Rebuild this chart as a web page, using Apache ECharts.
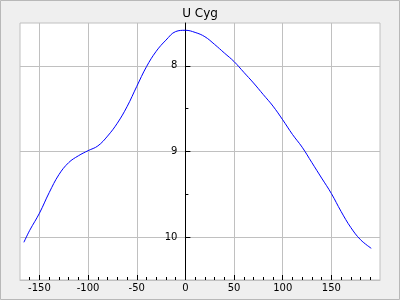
<!DOCTYPE html>
<html>
<head>
<meta charset="utf-8">
<script src="https://cdn.jsdelivr.net/npm/echarts@6/dist/echarts.min.js"></script>
<style>
html,body{margin:0;padding:0;background:#efefef;}
#c{width:400px;height:300px;}
</style>
</head>
<body>
<div id="c"></div>
<script>
var titleText = 'U Cyg';
var phases = [-166, -160, -150, -140, -130, -120, -110, -100, -90, -80, -70, -60, -50, -40, -30, -20, -10, 0, 10, 20, 30, 40, 50, 60, 70, 80, 90, 100, 110, 120, 130, 140, 150, 160, 170, 180, 191];
var mags = [10.06, 9.92, 9.72, 9.48, 9.27, 9.13, 9.05, 8.99, 8.935, 8.82, 8.67, 8.477, 8.24, 8.01, 7.83, 7.70, 7.60, 7.585, 7.61, 7.66, 7.75, 7.85, 7.95, 8.075, 8.20, 8.335, 8.47, 8.63, 8.80, 8.95, 9.13, 9.31, 9.49, 9.70, 9.887, 10.03, 10.13];
var xMajorTicks = [-150, -100, -50, 0, 50, 100, 150];
var xMinorTicks = [-160, -140, -130, -120, -110, -90, -80, -70, -60, -40, -30, -20, -10, 10, 20, 30, 40, 60, 70, 80, 90, 110, 120, 130, 140, 160, 170, 180, 190];
var yMajorTicks = [8, 9, 10];
var yMinorTicks = [8.5, 9.5];

var chart = echarts.init(document.getElementById('c'), null, {renderer: 'canvas'});
var font = 'DejaVu Sans';
var xRange = {min: -170, max: 200};
var yRange = {min: 7.5, max: 10.5};
var gridLeft = 20, gridRight = 20;
var gridWidth = 400 - gridLeft - gridRight;
var yAxisOffset = -((0 - xRange.min) / (xRange.max - xRange.min)) * gridWidth;
var data = phases.map(function (p, i) { return [p, mags[i]]; });

chart.setOption({
  backgroundColor: '#efefef',
  animation: false,
  title: {
    text: titleText, left: 'center', top: 3,
    textStyle: {fontFamily: font, fontSize: 12, fontWeight: 'normal', color: '#000'}
  },
  graphic: [{
    type: 'rect', shape: {x: 0.5, y: 0.5, width: 399, height: 299},
    style: {fill: 'none', stroke: '#b8b8b8', lineWidth: 1}, silent: true, z: -1
  }],
  grid: {
    left: gridLeft, right: gridRight, top: 23, bottom: 20,
    show: true, backgroundColor: '#fff', borderColor: '#c0c0c0', borderWidth: 1,
    containLabel: false, outerBoundsMode: 'none'
  },
  xAxis: [{
    type: 'value', min: xRange.min, max: xRange.max, position: 'bottom',
    axisLine: {show: true, onZero: false, lineStyle: {color: '#c0c0c0'}},
    axisTick: {show: true, inside: true, length: 5, customValues: xMajorTicks, lineStyle: {color: '#000'}},
    axisLabel: {show: true, customValues: xMajorTicks, margin: 3, fontFamily: font, fontSize: 10, color: '#000'},
    splitLine: {show: true, lineStyle: {color: '#c0c0c0', width: 1}}
  }, {
    type: 'value', min: xRange.min, max: xRange.max, position: 'bottom',
    axisLine: {show: false, onZero: false},
    axisTick: {show: true, inside: true, length: 3, customValues: xMinorTicks, lineStyle: {color: '#000'}},
    axisLabel: {show: false},
    splitLine: {show: false}
  }],
  yAxis: [{
    type: 'value', min: yRange.min, max: yRange.max, inverse: true, position: 'left', offset: yAxisOffset,
    axisLine: {show: true, onZero: false, lineStyle: {color: '#000'}},
    axisTick: {show: true, inside: true, length: 5, customValues: yMajorTicks, lineStyle: {color: '#000'}},
    axisLabel: {show: true, customValues: yMajorTicks, margin: 8, fontFamily: font, fontSize: 10, color: '#000'},
    splitLine: {show: true, lineStyle: {color: '#c0c0c0', width: 1}}
  }, {
    type: 'value', min: yRange.min, max: yRange.max, inverse: true, position: 'left', offset: yAxisOffset,
    axisLine: {show: false, onZero: false},
    axisTick: {show: true, inside: true, length: 3, customValues: yMinorTicks, lineStyle: {color: '#000'}},
    axisLabel: {show: false},
    splitLine: {show: false}
  }],
  series: [{
    type: 'line', data: data, xAxisIndex: 0, yAxisIndex: 0,
    smooth: 0.4, showSymbol: false, symbol: 'none',
    lineStyle: {color: '#0000ff', width: 1}, clip: true
  }]
});
</script>
</body>
</html>
